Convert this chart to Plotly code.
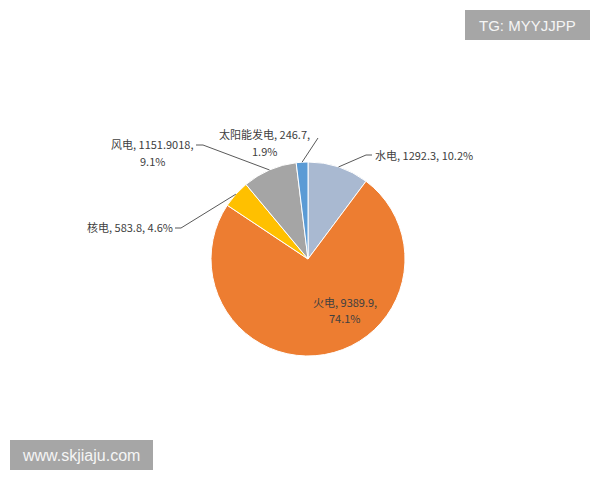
import math
import plotly.graph_objects as go

labels = ["水电", "火电", "核电", "风电", "太阳能发电"]
values = [1292.3, 9389.9, 583.8, 1151.9018, 246.7]
value_text = ["1292.3", "9389.9", "583.8", "1151.9018", "246.7"]
pct_text = ["10.2%", "74.1%", "4.6%", "9.1%", "1.9%"]
colors = ["#A9B9D1", "#ED7D31", "#FFC000", "#A5A5A5", "#5B9BD5"]

W, H = 600, 480
cx, cy, r = 308, 259, 97

fig = go.Figure(go.Pie(
    labels=labels, values=values, sort=False, direction="clockwise", rotation=0,
    marker=dict(colors=colors, line=dict(color="white", width=1)),
    textinfo="none", hoverinfo="label+value+percent", showlegend=False,
    domain=dict(x=[(cx - r) / W, (cx + r) / W], y=[1 - (cy + r) / H, 1 - (cy - r) / H]),
))

def px(x):
    return x / W

def py(y):
    return 1 - y / H

# mid-angle edge points for leader lines (computed from data)
total = sum(values)
cum = 0
mids = []
for v in values:
    a = (cum + v / 2) / total * 2 * math.pi
    mids.append((cx + r * math.sin(a), cy - r * math.cos(a)))
    cum += v

font = dict(family="Noto Sans CJK SC, sans-serif", size=11, color="#404040")
line_style = dict(color="#595959", width=1)

# each entry: list of (text, x, y, xanchor) lines, plus leader path
label_specs = {
    0: dict(lines=[(f"{labels[0]}, {value_text[0]}, {pct_text[0]}", 373, 155, "left")],
            path=[(366, 155), (372, 155)]),
    2: dict(lines=[(f"{labels[2]}, {value_text[2]}, {pct_text[2]}", 130, 227, "center")],
            path=[(181, 228), (175, 228)]),
    3: dict(lines=[(f"{labels[3]}, {value_text[3]},", 152, 144, "center"),
                   (f"{pct_text[3]}", 152, 161, "center")],
            path=[(203, 145), (196, 145)]),
    4: dict(lines=[(f"{labels[4]}, {value_text[4]},", 264, 134, "center"),
                   (f"{pct_text[4]}", 264, 151, "center")],
            path=[(318, 138)]),
    1: dict(lines=[(f"{labels[1]}, {value_text[1]},", 345, 302, "center"),
                   (f"{pct_text[1]}", 345, 318, "center")],
            path=[]),
}

shapes = []
annotations = []
for i, spec in label_specs.items():
    if spec["path"]:
        pts = [mids[i]] + spec["path"]
        for (x0, y0), (x1, y1) in zip(pts[:-1], pts[1:]):
            shapes.append(dict(type="line", xref="paper", yref="paper",
                               x0=px(x0), y0=py(y0), x1=px(x1), y1=py(y1), line=line_style))
    for text, x, y, xa in spec["lines"]:
        annotations.append(dict(text=text, x=px(x), y=py(y),
                                xref="paper", yref="paper", xanchor=xa, yanchor="middle",
                                showarrow=False, font=font, align="center"))

# watermark boxes
shapes.append(dict(type="rect", xref="paper", yref="paper", x0=px(465), x1=px(590), y0=py(40), y1=py(10),
                   fillcolor="#A6A6A6", line=dict(width=0), layer="above"))
shapes.append(dict(type="rect", xref="paper", yref="paper", x0=px(10), x1=px(153), y0=py(470), y1=py(440),
                   fillcolor="#A6A6A6", line=dict(width=0), layer="above"))
annotations.append(dict(text="TG: MYYJJPP", x=px(527), y=py(25), xref="paper", yref="paper",
                        xanchor="center", yanchor="middle", showarrow=False,
                        font=dict(family="Liberation Sans, Arial", size=15, color="#F5F5F5")))
annotations.append(dict(text="www.skjiaju.com", x=px(81), y=py(455), xref="paper", yref="paper",
                        xanchor="center", yanchor="middle", showarrow=False,
                        font=dict(family="Liberation Sans, Arial", size=16, color="#F5F5F5")))

fig.update_layout(width=W, height=H, margin=dict(l=0, r=0, t=0, b=0),
                  paper_bgcolor="white", plot_bgcolor="white",
                  shapes=shapes, annotations=annotations)

fig.write_html("out.html", config={"displayModeBar": False},
               post_script="document.body.style.margin='0px';")
